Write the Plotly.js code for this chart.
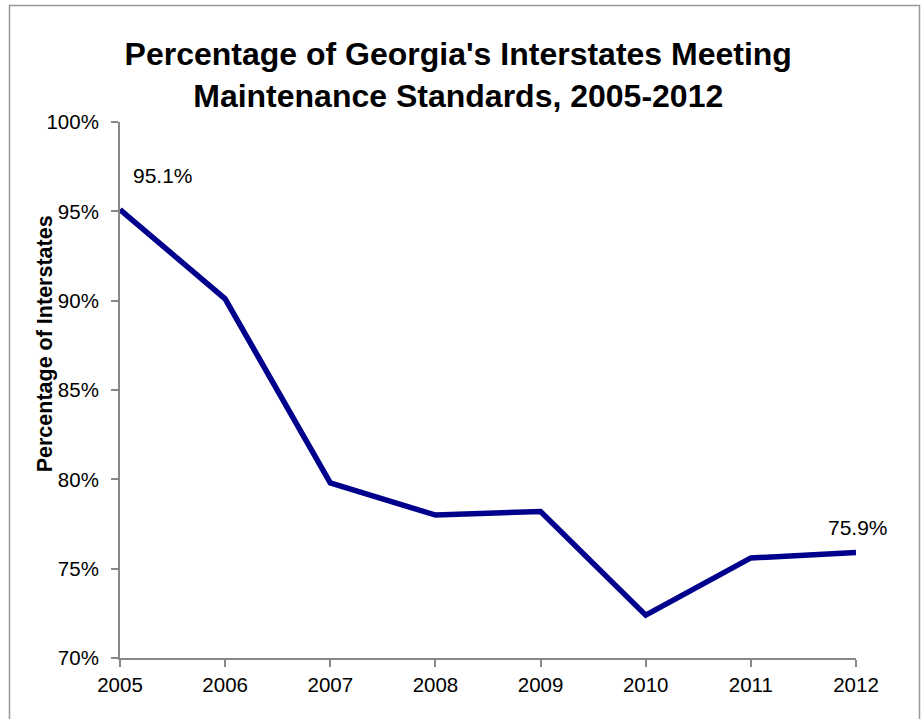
<!DOCTYPE html>
<html>
<head>
<meta charset="utf-8">
<script src="https://cdn.plot.ly/plotly-3.0.1.min.js"></script>
<style>
  html, body { margin: 0; padding: 0; background: #fff; }
  #chart { width: 922px; height: 719px; }
</style>
</head>
<body>
<div id="chart"></div>
<script>
const years = [2005, 2006, 2007, 2008, 2009, 2010, 2011, 2012];
const percentMeeting = [95.1, 90.1, 79.8, 78.0, 78.2, 72.4, 75.6, 75.9];
const yTickValues = [70, 75, 80, 85, 90, 95, 100];
const yTickLabels = ['70%', '75%', '80%', '85%', '90%', '95%', '100%'];
const labelledYears = [2005, 2012];

const FONT = 'Liberation Sans, Arial, sans-serif';

const trace = {
  x: years,
  y: percentMeeting,
  type: 'scatter',
  mode: 'lines',
  line: { color: '#00008c', width: 5.5 },
  hoverinfo: 'x+y'
};

const annotations = labelledYears.map((yr, i) => {
  const idx = years.indexOf(yr);
  return {
    x: yr, y: percentMeeting[idx], xref: 'x', yref: 'y',
    text: percentMeeting[idx].toFixed(1) + '%',
    showarrow: false,
    xanchor: i === 0 ? 'left' : 'center',
    yanchor: 'bottom',
    xshift: i === 0 ? 11 : 2,
    yshift: i === 0 ? 21 : 12,
    font: { family: FONT, size: 21, color: '#000' }
  };
});

annotations.push({
  xref: 'paper', yref: 'paper',
  x: -0.102, y: 0.587,
  text: '<b>Percentage of Interstates</b>',
  textangle: -90,
  showarrow: false,
  xanchor: 'center', yanchor: 'middle',
  font: { family: FONT, size: 21.5, color: '#000' }
});

const L = 120, R = 66, T = 122, B = 61;
const W = 922, H = 719;
const pw = W - L - R, ph = H - T - B;
const px = v => (v - L) / pw;
const py = v => (H - B - v) / ph;

const layout = {
  width: W, height: H,
  margin: { l: L, r: R, t: T, b: B },
  paper_bgcolor: '#fff',
  plot_bgcolor: '#fff',
  showlegend: false,
  title: {
    text: "<b>Percentage of Georgia's Interstates Meeting<br>Maintenance Standards, 2005-2012</b>",
    font: { family: FONT, size: 32, color: '#000' },
    x: 0.497, xanchor: 'center',
    y: 0.909, yanchor: 'middle', yref: 'container'
  },
  xaxis: {
    range: [2005, 2012],
    tickvals: years,
    ticktext: years.map(String),
    showgrid: false, zeroline: false,
    showline: true, linecolor: '#888', linewidth: 2,
    ticks: 'outside', ticklen: 7, tickwidth: 2, tickcolor: '#888',
    tickfont: { family: FONT, size: 20.5, color: '#000' },
    fixedrange: true
  },
  yaxis: {
    range: [70, 100],
    tickvals: yTickValues,
    ticktext: yTickLabels,
    showgrid: false, zeroline: false,
    showline: true, linecolor: '#888', linewidth: 2,
    ticks: 'outside', ticklen: 7, tickwidth: 2, tickcolor: '#888',
    tickfont: { family: FONT, size: 20.5, color: '#000' },
    ticklabelstandoff: 8,
    fixedrange: true
  },
  annotations: annotations,
  shapes: [{
    type: 'rect', xref: 'paper', yref: 'paper',
    x0: px(9.5), x1: px(919.5), y0: py(730), y1: py(5.5),
    line: { color: '#999', width: 1.5 },
    fillcolor: 'rgba(0,0,0,0)',
    layer: 'below'
  }]
};

Plotly.newPlot('chart', [trace], layout, { displayModeBar: false, staticPlot: true });
</script>
</body>
</html>
